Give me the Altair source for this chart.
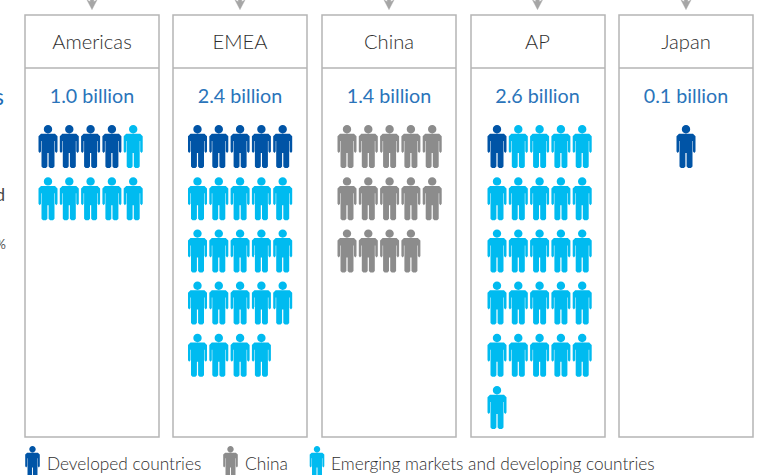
import altair as alt
import pandas as pd

# Panel contents: people icons per region, one icon per 200 million
regions = ["Americas", "EMEA", "China", "AP", "Japan"]
populations = ["1.0 billion", "2.4 billion", "1.4 billion", "2.6 billion", "0.1 billion"]
developed = [4, 5, 0, 1, 1]
china = [0, 0, 14, 0, 0]
emerging = [6, 19, 0, 25, 0]
first_icon_x = [48, 197.5, 347, 497, 686]
panel_left = [25, 173, 322, 471, 619]
panel_right = [159, 307, 456, 605, 753]
panel_centre = [92, 240, 389, 537.5, 686]
legend_labels = ["Developed countries", "China", "Emerging markets and developing countries"]
legend_icon_x = [32.5, 230.5, 317]
legend_text_x = [47, 245, 331]
cropped_text = ["s", "d", "%"]
cropped_y = [98, 196, 245]

BLUE, GREY, CYAN = "#0054A6", "#8C8C8C", "#00BBF0"
COLORS = {"Developed": BLUE, "China": GREY, "Emerging": CYAN}


def person_path():
    """Standing figure, drawn in a 19x43 box and normalised to the -1..1 symbol space."""
    px = lambda x, y: f"{x / 21.5:.4f} {(y - 21.5) / 21.5:.4f}"
    k = 2.3
    r = 4.2
    cy = 4.2
    head = (
        f"M{px(-r, cy)}C{px(-r, cy - k)} {px(-k, 0)} {px(0, 0)}"
        f"C{px(k, 0)} {px(r, cy - k)} {px(r, cy)}"
        f"C{px(r, cy + k)} {px(k, cy + r)} {px(0, cy + r)}"
        f"C{px(-k, cy + r)} {px(-r, cy + k)} {px(-r, cy)}Z"
    )
    side = [(7, 8.7), (9.5, 11.2), (9.5, 26.5), (8.3, 28), (7, 26.5), (7, 16), (6.5, 16),
            (6.5, 41.5), (5, 43), (2.1, 43), (0.6, 41.5), (0.6, 28)]
    right = [px(x, y) for x, y in side]
    left = [px(-x, y) for x, y in reversed(side)]
    body = "M" + "L".join(right + left) + "Z"
    return head + body


PERSON = person_path()
ARROW = "M-0.25 -1L0.25 -1L0.25 -0.1L0.7 -0.35L0 1L-0.7 -0.35L-0.25 -0.1Z"

x_scale = alt.Scale(domain=[0, 760])
y_scale = alt.Scale(domain=[475, 0])
X = lambda f: alt.X(f, type="quantitative", scale=x_scale, axis=None)
X2 = lambda f: alt.X2(f)
Y = lambda f: alt.Y(f, type="quantitative", scale=y_scale, axis=None)
Y2 = lambda f: alt.Y2(f)

# Icon table: five per row within each region
rows = []
for i, region in enumerate(regions):
    kinds = ["Developed"] * developed[i] + ["China"] * china[i] + ["Emerging"] * emerging[i]
    for n, kind in enumerate(kinds):
        rows.append({
            "region": region,
            "kind": kind,
            "x": first_icon_x[i] + 21.3 * (n % 5),
            "y": 146.5 + 52.2 * (n // 5),
        })
icons = pd.DataFrame(rows)

panels = pd.DataFrame({
    "region": regions,
    "population": populations,
    "left": panel_left,
    "right": panel_right,
    "centre": panel_centre,
    "top": 15,
    "header": 68,
    "bottom": 437,
    "title_y": 42.5,
    "pop_y": 96.5,
    "arrow_y": 2.5,
})

color = alt.Color("kind:N", scale=alt.Scale(domain=list(COLORS), range=list(COLORS.values())), legend=None)

boxes = alt.Chart(panels).mark_rect(fill="white", stroke="#B5B5B5", strokeWidth=1.5).encode(
    x=X("left"), x2=X2("right"), y=Y("top"), y2=Y2("bottom"))
dividers = alt.Chart(panels).mark_rule(color="#B5B5B5", strokeWidth=1.5).encode(
    x=X("left"), x2=X2("right"), y=Y("header"))
arrows = alt.Chart(panels).mark_point(shape=ARROW, filled=True, fill="#A6A6A6", stroke="#A6A6A6",
                                      strokeWidth=0.5, opacity=1, size=200).encode(
    x=X("centre"), y=Y("arrow_y"))
titles = alt.Chart(panels).mark_text(font="Lato", fontSize=20.2, fontWeight=300, color="#2E2E2E").encode(
    x=X("centre"), y=Y("title_y"), text="region:N")
pops = alt.Chart(panels).mark_text(font="Lato", fontSize=19.7, fontWeight=400, color="#2A74BA").encode(
    x=X("centre"), y=Y("pop_y"), text="population:N")
people = alt.Chart(icons).mark_point(shape=PERSON, filled=True, opacity=1, strokeWidth=0, size=1849).encode(
    x=X("x"), y=Y("y"), color=color)

legend = pd.DataFrame({
    "label": legend_labels,
    "kind": list(COLORS),
    "icon_x": legend_icon_x,
    "text_x": legend_text_x,
    "icon_y": 462.5,
    "text_y": 464.5,
})
legend_icons = alt.Chart(legend).mark_point(shape=PERSON, filled=True, opacity=1, strokeWidth=0, size=1089).encode(
    x=X("icon_x"), y=Y("icon_y"), color=color)
legend_text = alt.Chart(legend).mark_text(font="Lato", fontSize=17.3, fontWeight=300, color="#2E2E2E", align="left").encode(
    x=X("text_x"), y=Y("text_y"), text="label:N")

# Ends of the text column running off the left edge
side = pd.DataFrame({"t": cropped_text, "y": cropped_y, "x": [4, 5, 6],
                     "c": ["#1F6DB5", "#444444", "#555555"], "s": [23, 17, 13]})
side_text = alt.Chart(side).mark_text(font="Lato", fontWeight=400, align="right").encode(
    x=X("x"), y=Y("y"), text="t:N",
    color=alt.Color("c:N", scale=None), size=alt.Size("s:Q", scale=None))

chart = alt.layer(boxes, dividers, arrows, titles, pops, people, legend_icons, legend_text, side_text).resolve_scale(
    color="independent"
).properties(
    width=760, height=475, padding=0, background="white",
    autosize=alt.AutoSizeParams(type="none"),
).configure_view(stroke=None)

chart.save("out.html", embed_options={"renderer": "svg", "actions": False})
